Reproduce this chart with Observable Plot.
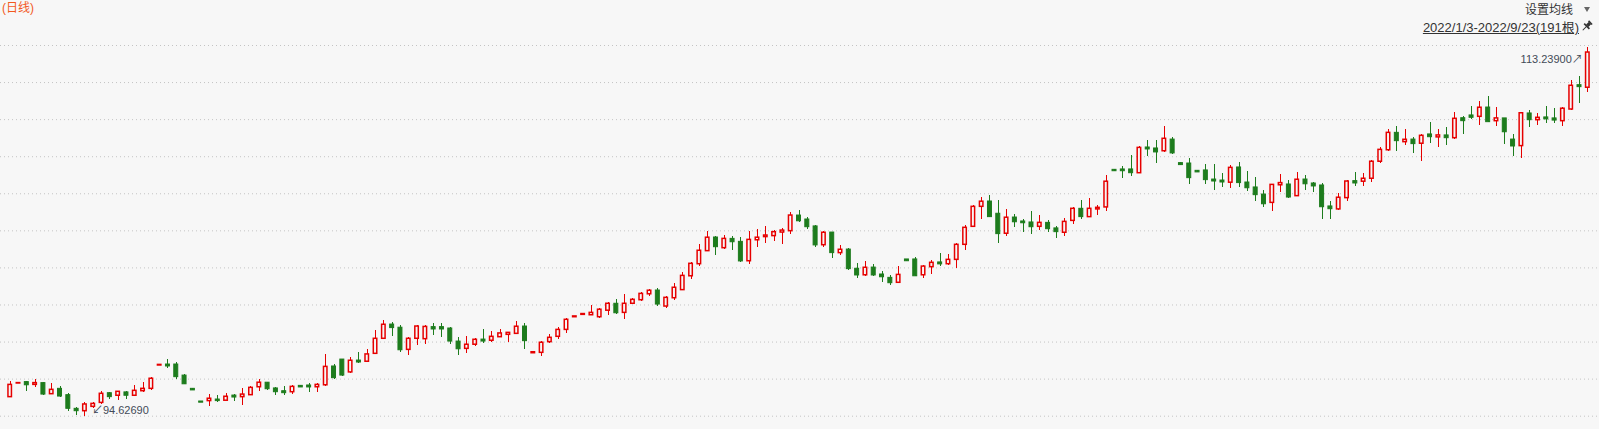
<!DOCTYPE html>
<html>
<head>
<meta charset="utf-8">
<script src="https://cdn.jsdelivr.net/npm/d3@7"></script>
<script src="https://cdn.jsdelivr.net/npm/@observablehq/plot@0.6"></script>
<style>
  html, body { margin: 0; padding: 0; background: #f7f7f7; overflow: hidden; }
  #wrap { position: relative; width: 1599px; height: 429px; }
  .t { position: absolute; font-family: 'Liberation Sans', 'Noto Sans CJK SC', sans-serif; white-space: nowrap; line-height: 1; }
  #title { left: 2px; top: 2px; font-size: 12px; color: #f25a1e; }
  #ma { right: 26px; top: 4px; font-size: 12px; color: #333; }
  #tri { position: absolute; left: 1584px; top: 7px; width: 0; height: 0; border-left: 3.5px solid transparent; border-right: 3.5px solid transparent; border-top: 5px solid #666; }
  #range { right: 20px; top: 21px; font-size: 13px; color: #333; text-decoration: underline; }
  #pin { position: absolute; left: 1581px; top: 20px; }
</style>
</head>
<body>
<div id="wrap">
  <div id="chart"></div>
  <div class="t" id="title">(日线)</div>
  <div class="t" id="ma">设置均线</div>
  <div id="tri"></div>
  <div class="t" id="range">2022/1/3-2022/9/23(191根)</div>
  <svg id="pin" width="12" height="12" viewBox="0 0 12 12"><g transform="rotate(45 6 6)" fill="#333"><rect x="3.5" y="0.5" width="5" height="1.6"/><rect x="4.3" y="2" width="3.4" height="3.6"/><rect x="2.3" y="5.5" width="7.4" height="1.6"/><rect x="5.5" y="7" width="1" height="5"/></g></svg>
</div>
<script>
const opens = [95.58,96.27,96.34,96.20,96.29,95.73,96.00,95.68,94.99,94.87,95.09,95.29,95.78,95.65,95.82,95.65,95.88,96.00,97.18,97.23,
97.23,96.67,96.00,95.36,95.38,95.46,95.40,95.66,95.58,95.68,96.08,96.31,96.02,95.88,95.83,96.15,96.17,96.08,96.18,97.13,
97.48,96.83,97.43,97.37,97.77,98.53,99.25,99.09,97.97,98.53,98.51,99.12,99.12,99.05,98.39,98.02,98.23,98.49,98.43,98.61,
98.73,98.78,99.15,97.80,97.82,98.36,98.63,98.98,99.62,99.74,99.72,99.62,99.95,100.30,99.84,100.30,100.48,100.78,100.97,100.16,
100.58,100.99,101.69,102.30,102.96,103.65,103.11,103.58,103.43,102.45,103.51,103.67,103.72,103.90,103.97,104.76,104.56,104.21,103.26,103.90,
102.86,103.04,102.07,101.74,102.13,101.78,101.61,101.36,102.54,102.54,101.74,102.15,102.39,102.30,102.52,103.28,104.19,105.20,105.47,104.85,
103.84,104.66,104.46,104.41,104.19,104.39,104.11,103.89,104.49,105.10,104.68,105.07,105.17,107.07,107.09,107.09,106.90,108.20,108.15,108.01,
108.60,107.41,107.39,107.02,107.04,106.58,106.53,106.42,107.19,106.43,106.18,105.82,105.40,106.29,106.33,105.74,106.58,106.38,106.28,105.22,
105.07,105.64,106.50,106.47,106.62,107.48,108.06,108.94,108.47,108.60,108.39,108.86,108.71,108.81,108.67,109.68,109.82,109.75,110.22,109.53,
109.67,108.60,108.27,109.92,109.58,109.72,109.67,109.53,110.12,111.35,111.22];
const highs = [96.36,96.30,96.35,96.46,96.32,96.27,96.12,95.75,95.07,95.33,95.33,95.87,95.82,95.86,95.88,96.15,96.32,96.57,97.22,97.48,
97.33,96.73,96.01,95.37,95.71,95.65,95.75,95.71,96.02,96.12,96.46,96.32,96.07,96.10,96.17,96.16,96.27,96.26,97.72,97.23,
97.50,97.57,97.84,97.97,98.95,99.45,99.35,99.20,98.60,99.20,99.19,99.32,99.29,99.09,98.60,98.65,98.55,98.98,98.88,99.00,
98.86,99.40,99.30,97.86,98.38,98.73,99.10,99.56,99.67,99.79,100.21,100.06,100.36,100.53,100.77,100.57,100.87,101.02,101.07,100.67,
101.31,101.88,102.39,103.28,103.94,103.70,103.74,103.70,103.64,103.95,104.04,104.21,104.00,104.11,104.90,105.02,104.65,104.26,103.94,103.92,
103.25,103.11,102.34,102.44,102.29,101.93,101.73,102.18,102.55,102.64,102.24,102.47,102.84,102.79,103.33,104.24,105.27,105.66,105.77,105.52,
105.07,104.81,104.56,104.96,104.76,104.51,104.21,104.60,105.15,105.52,105.62,105.27,106.78,107.08,107.24,107.80,108.25,108.55,108.55,109.26,
108.71,107.45,107.64,107.03,107.34,107.34,106.87,107.29,107.44,106.99,106.68,106.03,106.32,106.84,106.53,106.94,106.78,106.43,106.38,105.47,
105.86,106.53,106.94,106.87,107.54,108.20,109.09,109.26,109.11,108.71,108.86,109.46,109.09,109.21,109.97,109.75,110.27,110.53,110.78,110.22,
109.68,108.84,109.98,110.07,109.92,110.27,110.17,110.21,111.59,111.80,113.239];
const lows = [95.58,96.26,95.88,96.07,95.68,95.73,95.58,94.87,94.67,94.6269,95.01,95.21,95.48,95.43,95.48,95.64,95.82,95.90,97.17,97.03,
96.49,96.22,95.91,95.29,95.12,95.31,95.39,95.38,95.17,95.65,95.88,95.92,95.68,95.66,95.73,96.06,95.83,95.83,96.13,96.47,
96.62,96.80,97.27,97.36,97.72,98.52,98.66,97.85,97.70,98.21,98.23,98.68,98.61,98.26,97.70,97.80,98.16,98.31,98.36,98.58,
98.36,98.77,98.00,97.79,97.65,98.28,98.51,98.81,99.61,99.73,99.72,99.56,99.72,99.77,99.52,100.26,100.43,100.68,100.16,100.06,
100.47,100.98,101.51,102.20,102.95,102.74,103.06,102.99,102.40,102.30,103.16,103.36,103.46,103.30,103.82,104.41,104.07,103.15,103.15,102.59,
102.76,101.98,101.58,101.68,101.68,101.38,101.24,101.36,102.44,101.69,101.59,101.78,102.18,102.25,102.10,103.01,104.16,104.58,104.67,103.36,
103.72,104.17,103.92,103.82,104.02,103.92,103.62,103.72,104.32,104.58,104.67,104.78,104.98,106.99,106.65,106.75,106.87,107.74,107.41,107.96,
107.85,107.30,106.34,106.93,106.34,106.04,106.19,106.14,106.19,105.99,105.49,105.18,104.98,105.93,105.62,105.73,106.04,105.93,104.58,104.58,
105.03,105.49,106.24,106.24,106.45,107.41,108.01,108.01,108.32,107.91,107.49,108.42,108.22,108.32,108.62,108.86,109.60,109.33,109.47,109.28,
108.34,107.74,107.63,109.21,109.33,109.43,109.43,109.28,110.07,110.41,111.00];
const closes = [96.20,96.29,96.18,96.29,95.71,95.95,95.61,94.99,94.87,95.21,95.24,95.75,95.58,95.85,95.65,95.90,96.00,96.51,97.21,97.13,
96.59,96.23,95.92,95.30,95.50,95.38,95.60,95.56,95.71,96.05,96.31,95.98,95.83,95.78,96.10,96.07,96.07,96.20,97.11,96.54,
96.67,97.42,97.33,97.74,98.53,99.24,99.07,97.95,98.53,99.15,99.13,99.00,99.00,98.39,98.00,98.23,98.48,98.39,98.63,98.80,
98.83,99.14,98.41,97.85,98.33,98.58,98.98,99.49,99.66,99.78,99.84,100.00,100.30,99.82,100.30,100.50,100.80,100.96,100.26,100.60,
101.11,101.71,102.32,102.98,103.64,103.16,103.58,103.41,102.44,103.53,103.64,103.75,103.92,104.00,104.76,104.47,104.17,103.25,103.89,102.86,
103.03,102.05,101.73,102.12,101.73,101.64,101.34,101.76,102.45,101.69,102.18,102.37,102.29,102.52,103.28,104.14,105.20,105.46,104.68,103.82,
104.65,104.42,104.37,104.17,104.39,104.07,103.92,104.44,105.10,104.68,105.10,105.15,106.47,107.00,107.00,106.90,108.18,108.10,107.95,108.64,
107.90,107.31,106.65,106.94,106.55,106.48,106.43,107.17,106.40,106.14,105.79,105.33,106.31,106.40,105.67,106.57,106.34,106.23,105.18,105.08,
105.66,106.48,106.38,106.62,107.48,108.08,108.94,108.52,108.59,108.37,108.79,108.72,108.81,108.67,109.65,109.53,109.70,110.21,109.48,109.67,
108.97,108.25,109.93,109.58,109.70,109.62,109.56,110.16,111.32,111.25,113.00];
const gridValues = [94.617, 96.491, 98.365, 100.239, 102.113, 103.987, 105.861, 107.734, 109.608, 111.482, 113.356];
const minLabel = "94.62690";
const maxLabel = "113.23900";

const red = "#e60000", green = "#1d7c1d", bg = "#f7f7f7";
const candles = opens.map((o, i) => ({i, open: o, high: highs[i], low: lows[i], close: closes[i], up: closes[i] >= o}));
const upC = candles.filter(d => d.up), downC = candles.filter(d => !d.up);
const iMin = d3.minIndex(lows), iMax = d3.maxIndex(highs);

const chart = Plot.plot({
  width: 1599,
  height: 429,
  margin: 0,
  style: {background: bg, fontFamily: "'Liberation Sans', 'Noto Sans CJK SC', sans-serif", overflow: "visible"},
  x: {type: "band", domain: d3.range(opens.length), range: [0, 1597], paddingInner: 0.4, paddingOuter: 0.868, round: false, axis: null},
  y: {domain: [94.6269, 113.239], range: [415.5, 47.3], axis: null},
  marks: [
    Plot.ruleY(gridValues, {stroke: "#c4c4c4", strokeDasharray: "1,3"}),
    Plot.ruleX(upC, {x: "i", y1: "low", y2: "high", stroke: red, strokeWidth: 1, shapeRendering: "crispEdges"}),
    Plot.ruleX(downC, {x: "i", y1: "low", y2: "high", stroke: green, strokeWidth: 1, shapeRendering: "crispEdges"}),
    Plot.barY(upC, {x: "i", y1: "open", y2: "close", fill: bg, stroke: red, strokeWidth: 1.5, insetLeft: 0.75, insetRight: 0.75}),
    Plot.barY(downC, {x: "i", y1: "open", y2: "close", fill: green, stroke: green, strokeWidth: 1, insetLeft: 0.5, insetRight: 0.5}),
    Plot.text([candles[iMin]], {x: "i", y: "low", text: () => "↙" + minLabel, textAnchor: "start", dx: 7, dy: -6, fill: "#434b58", fontSize: 11}),
    Plot.text([candles[iMax]], {x: "i", y: "high", text: () => maxLabel + "↗", textAnchor: "end", dx: -5, dy: 12, fill: "#434b58", fontSize: 11})
  ]
});
document.getElementById("chart").appendChild(chart);
</script>
</body>
</html>
